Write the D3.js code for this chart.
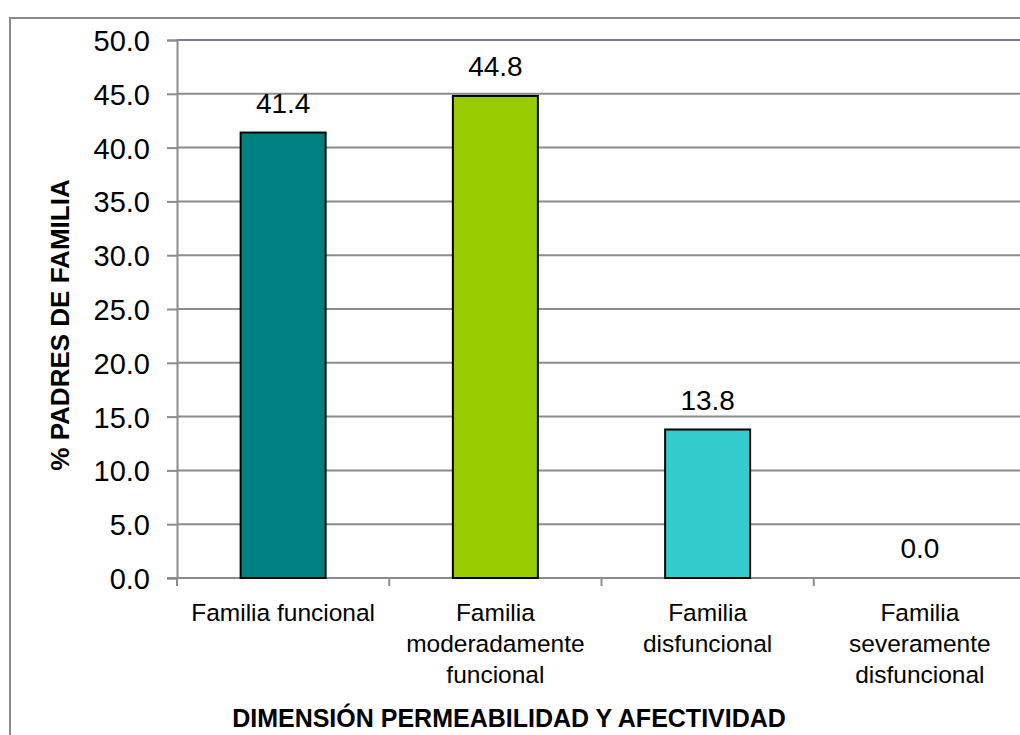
<!DOCTYPE html>
<html>
<head>
<meta charset="utf-8">
<script src="https://cdn.jsdelivr.net/npm/d3@7"></script>
<style>
  body { margin: 0; background: #fff; }
  svg text { font-family: "Liberation Sans", Arial, sans-serif; fill: #000; }
</style>
</head>
<body>
<div id="chart"></div>
<script>
// chart data
var categories = ["Familia funcional", "Familia moderadamente funcional", "Familia disfuncional", "Familia severamente disfuncional"]
var categoryLines = [["Familia funcional"], ["Familia", "moderadamente", "funcional"], ["Familia", "disfuncional"], ["Familia", "severamente", "disfuncional"]]
var values = [41.4, 44.8, 13.8, 0.0]
var barColors = ["#008080", "#99cc00", "#33cccc", "#ffcc00"]
var yTicks = [0, 5, 10, 15, 20, 25, 30, 35, 40, 45, 50]
var yTitle = "% PADRES DE FAMILIA"
var xTitle = "DIMENSIÓN PERMEABILIDAD Y AFECTIVIDAD"

var width = 1020, height = 735
var plot = { left: 177, top: 40, right: 1026, bottom: 578 }

var svg = d3.select("#chart").append("svg")
  .attr("width", width)
  .attr("height", height)

// outer chart border (runs off the right and bottom edge)
svg.append("rect")
  .attr("x", 10).attr("y", 18)
  .attr("width", 1030).attr("height", 740)
  .attr("fill", "none")
  .attr("stroke", "#8c8c8c")
  .attr("stroke-width", 2)

var x = d3.scaleBand()
  .domain(categories)
  .range([plot.left, plot.right])
  .paddingInner(0).paddingOuter(0)

var y = d3.scaleLinear()
  .domain([0, 50])
  .range([plot.bottom, plot.top])

// gridlines
svg.append("g")
  .selectAll("line")
  .data(yTicks.filter(function(d) { return d > 0 }))
  .enter().append("line")
    .attr("x1", plot.left).attr("x2", width)
    .attr("y1", function(d) { return y(d) })
    .attr("y2", function(d) { return y(d) })
    .attr("stroke", function(d) { return d === 50 ? "#7c7ca0" : "#8c8c8c" })
    .attr("stroke-width", 2)

// Y axis
var yAxis = svg.append("g")
  .attr("transform", "translate(" + plot.left + ",0)")
  .call(d3.axisLeft(y).tickValues(yTicks).tickFormat(d3.format(".1f")).tickSize(10).tickPadding(17))
yAxis.select(".domain").attr("stroke", "#8c8c8c").attr("stroke-width", 2)
yAxis.selectAll(".tick line").attr("stroke", "#8c8c8c").attr("stroke-width", 2)
yAxis.selectAll(".tick text")
  .style("font-family", "'Liberation Sans', Arial, sans-serif")
  .style("font-size", "29px")
  .attr("fill", "#000")
  .attr("dy", "0.36em")

// X axis with ticks at band edges
var xAxisG = svg.append("g")
xAxisG.append("line")
  .attr("x1", plot.left - 10).attr("x2", width)
  .attr("y1", plot.bottom).attr("y2", plot.bottom)
  .attr("stroke", "#8c8c8c").attr("stroke-width", 2)
xAxisG.selectAll("line.tk")
  .data(categories)
  .enter().append("line")
    .attr("class", "tk")
    .attr("x1", function(d) { return x(d) })
    .attr("x2", function(d) { return x(d) })
    .attr("y1", plot.bottom).attr("y2", plot.bottom + 8)
    .attr("stroke", "#8c8c8c").attr("stroke-width", 2)

// bars
var barW = 85
svg.append("g")
  .selectAll("rect")
  .data(values)
  .enter().append("rect")
    .attr("x", function(d, i) { return x(categories[i]) + x.bandwidth() / 2 - barW / 2 })
    .attr("y", function(d) { return y(d) })
    .attr("width", barW)
    .attr("height", function(d) { return y(0) - y(d) })
    .attr("fill", function(d, i) { return barColors[i] })
    .attr("stroke", function(d) { return d > 0 ? "#000" : "none" })
    .attr("stroke-width", 2)

// value labels
svg.append("g")
  .selectAll("text")
  .data(values)
  .enter().append("text")
    .attr("x", function(d, i) { return x(categories[i]) + x.bandwidth() / 2 })
    .attr("y", function(d) { return y(d) - 20 })
    .attr("text-anchor", "middle")
    .style("font-size", "28px")
    .text(function(d) { return d3.format(".1f")(d) })

// category labels
var cat = svg.append("g")
  .selectAll("text")
  .data(categoryLines)
  .enter().append("text")
    .attr("text-anchor", "middle")
    .style("font-size", "24.5px")
cat.selectAll("tspan")
  .data(function(d, i) { return d.map(function(t) { return { t: t, i: i } }) })
  .enter().append("tspan")
    .attr("x", function(d) { return x(categories[d.i]) + x.bandwidth() / 2 })
    .attr("y", function(d, j) { return 621 + j * 31 })
    .text(function(d) { return d.t })

// axis titles
svg.append("text")
  .attr("transform", "translate(69," + 325 + ") rotate(-90)")
  .attr("text-anchor", "middle")
  .style("font-size", "26px")
  .style("font-weight", "bold")
  .text(yTitle)

svg.append("text")
  .attr("x", 509).attr("y", 727)
  .attr("text-anchor", "middle")
  .style("font-size", "25px")
  .style("font-weight", "bold")
  .text(xTitle)
</script>
</body>
</html>
